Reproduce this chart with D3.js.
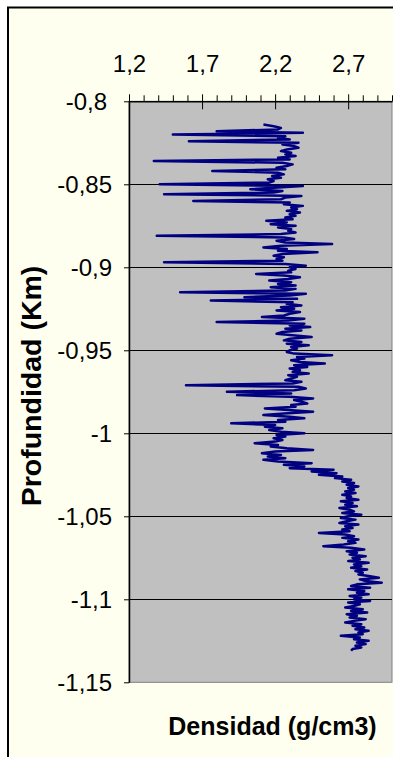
<!DOCTYPE html>
<html>
<head>
<meta charset="utf-8">
<script src="https://cdn.jsdelivr.net/npm/d3@7/dist/d3.min.js"></script>
<style>
  html, body { margin: 0; padding: 0; background: #ffffff; }
  svg { display: block; }
  text { font-family: "Liberation Sans", Arial, sans-serif; fill: #000; }
</style>
</head>
<body>
<svg id="chart" width="393" height="757"></svg>
<script>
// Registro de densidad vs. profundidad (km)
const profundidad = [
  -0.814,-0.815,-0.816,-0.817,-0.818,-0.819,-0.820,-0.821,-0.822,-0.823,
  -0.824,-0.825,-0.826,-0.827,-0.828,-0.829,-0.830,-0.831,-0.832,-0.833,
  -0.834,-0.835,-0.836,-0.837,-0.838,-0.839,-0.840,-0.841,-0.842,-0.843,
  -0.844,-0.845,-0.846,-0.847,-0.848,-0.849,-0.850,-0.851,-0.852,-0.853,
  -0.854,-0.855,-0.856,-0.857,-0.858,-0.859,-0.860,-0.861,-0.862,-0.863,
  -0.864,-0.865,-0.866,-0.867,-0.868,-0.869,-0.870,-0.871,-0.872,-0.873,
  -0.874,-0.875,-0.876,-0.877,-0.878,-0.879,-0.880,-0.881,-0.882,-0.883,
  -0.884,-0.885,-0.886,-0.887,-0.888,-0.889,-0.890,-0.891,-0.892,-0.893,
  -0.894,-0.895,-0.896,-0.897,-0.898,-0.899,-0.900,-0.901,-0.902,-0.903,
  -0.904,-0.905,-0.906,-0.907,-0.908,-0.909,-0.910,-0.911,-0.912,-0.913,
  -0.914,-0.915,-0.916,-0.917,-0.918,-0.919,-0.920,-0.921,-0.922,-0.923,
  -0.924,-0.925,-0.926,-0.927,-0.928,-0.929,-0.930,-0.931,-0.932,-0.933,
  -0.934,-0.935,-0.936,-0.937,-0.938,-0.939,-0.940,-0.941,-0.942,-0.943,
  -0.944,-0.945,-0.946,-0.947,-0.948,-0.949,-0.950,-0.951,-0.952,-0.953,
  -0.954,-0.955,-0.956,-0.957,-0.958,-0.959,-0.960,-0.961,-0.962,-0.963,
  -0.964,-0.965,-0.966,-0.967,-0.968,-0.969,-0.970,-0.971,-0.972,-0.973,
  -0.974,-0.975,-0.976,-0.977,-0.978,-0.979,-0.980,-0.981,-0.982,-0.983,
  -0.984,-0.985,-0.986,-0.987,-0.988,-0.989,-0.990,-0.991,-0.992,-0.993,
  -0.994,-0.995,-0.996,-0.997,-0.998,-0.999,-1.000,-1.001,-1.002,-1.003,
  -1.004,-1.005,-1.006,-1.007,-1.008,-1.009,-1.010,-1.011,-1.012,-1.013,
  -1.014,-1.015,-1.016,-1.017,-1.018,-1.019,-1.020,-1.021,-1.022,-1.023,
  -1.024,-1.025,-1.026,-1.027,-1.028,-1.029,-1.030,-1.031,-1.032,-1.033,
  -1.034,-1.035,-1.036,-1.037,-1.038,-1.039,-1.040,-1.041,-1.042,-1.043,
  -1.044,-1.045,-1.046,-1.047,-1.048,-1.049,-1.050,-1.051,-1.052,-1.053,
  -1.054,-1.055,-1.056,-1.057,-1.058,-1.059,-1.060,-1.061,-1.062,-1.063,
  -1.064,-1.065,-1.066,-1.067,-1.068,-1.069,-1.070,-1.071,-1.072,-1.073,
  -1.074,-1.075,-1.076,-1.077,-1.078,-1.079,-1.080,-1.081,-1.082,-1.083,
  -1.084,-1.085,-1.086,-1.087,-1.088,-1.089,-1.090,-1.091,-1.092,-1.093,
  -1.094,-1.095,-1.096,-1.097,-1.098,-1.099,-1.100,-1.101,-1.102,-1.103,
  -1.104,-1.105,-1.106,-1.107,-1.108,-1.109,-1.110,-1.111,-1.112,-1.113,
  -1.114,-1.115,-1.116,-1.117,-1.118,-1.119,-1.120,-1.121,-1.122,-1.123,
  -1.124,-1.125,-1.126,-1.127,-1.128,-1.129,-1.130,-1.131
];

const densidad = [
  2.12,2.19,2.24,2.22,1.80,2.39,1.50,2.27,2.22,2.30,
  1.61,2.36,2.25,2.33,2.36,2.28,2.24,2.31,2.27,2.34,
  2.22,2.30,1.37,2.25,2.32,2.28,2.21,2.27,1.77,2.22,
  2.26,2.18,2.24,2.15,2.19,2.16,1.41,2.39,2.22,2.03,
  2.25,2.19,1.44,2.38,2.27,2.24,1.64,2.30,2.26,2.39,
  2.31,2.35,2.28,2.37,2.30,2.34,2.27,2.32,2.14,2.28,
  2.17,2.34,2.22,2.31,2.29,2.34,2.24,1.39,2.26,2.33,
  2.21,2.27,2.59,2.24,2.12,2.28,2.22,2.49,2.25,2.19,
  2.26,2.21,2.25,1.44,2.27,2.41,2.30,2.34,2.29,2.31,
  2.07,2.26,2.37,2.29,2.16,2.31,2.22,2.34,2.17,2.34,
  2.27,1.55,2.41,2.30,1.99,2.35,1.76,2.32,2.28,2.38,
  2.24,2.33,2.21,2.37,2.30,2.26,2.11,2.40,2.29,1.80,
  2.40,2.30,2.44,2.27,2.38,2.25,2.21,2.32,2.45,2.30,
  2.26,2.38,2.28,2.43,2.31,2.35,2.30,2.28,2.33,2.59,
  2.35,2.40,2.31,2.37,2.54,2.33,2.42,2.30,2.37,2.32,
  2.43,2.29,2.35,2.31,2.27,2.38,2.32,1.59,2.36,2.41,
  2.33,1.87,2.31,1.94,2.30,2.46,2.33,2.38,2.42,2.31,
  2.34,2.13,2.29,2.46,2.26,2.12,2.30,2.40,2.22,2.27,
  1.90,2.20,2.13,2.25,2.16,2.24,2.40,2.21,2.27,2.19,
  2.25,2.20,2.06,2.22,2.17,2.28,2.46,2.20,2.11,2.24,
  2.15,2.27,2.12,2.22,2.45,2.26,2.40,2.30,2.60,2.45,
  2.62,2.50,2.66,2.61,2.72,2.66,2.74,2.69,2.77,2.70,
  2.74,2.68,2.75,2.66,2.72,2.69,2.77,2.65,2.73,2.68,
  2.76,2.64,2.71,2.74,2.66,2.79,2.70,2.65,2.75,2.69,
  2.64,2.77,2.68,2.73,2.66,2.71,2.50,2.68,2.74,2.66,
  2.77,2.70,2.75,2.67,2.53,2.72,2.81,2.69,2.76,2.71,
  2.82,2.73,2.78,2.70,2.84,2.74,2.79,2.72,2.83,2.75,
  2.80,2.77,2.84,2.91,2.78,2.82,2.93,2.76,2.72,2.85,
  2.70,2.81,2.76,2.84,2.71,2.79,2.74,2.85,2.70,2.78,
  2.74,2.68,2.80,2.72,2.83,2.69,2.76,2.71,2.82,2.74,
  2.68,2.79,2.73,2.81,2.75,2.84,2.77,2.80,2.65,2.78,
  2.74,2.84,2.76,2.82,2.75,2.79,2.73,2.72
];

const xTicks = [1.2, 1.7, 2.2, 2.7];
const xMinorTicks = [1.3, 1.4, 1.5, 1.6, 1.8, 1.9, 2.0, 2.1, 2.3, 2.4, 2.5, 2.6, 2.8, 2.9, 3.0];
const yTicks = [-0.8, -0.85, -0.9, -0.95, -1, -1.05, -1.1, -1.15];
const xDomain = [1.2, 3.0];
const yDomain = [-0.8, -1.15];
const xTitle = "Densidad (g/cm3)";
const yTitle = "Profundidad (Km)";

const svg = d3.select("#chart");
const plot = { left: 129, right: 392, top: 101.3, bottom: 682.3 };

const x = d3.scaleLinear().domain(xDomain).range([plot.left, plot.right]);
const y = d3.scaleLinear().domain(yDomain).range([plot.top, plot.bottom]);

const es = d3.formatLocale({ decimal: ",", thousands: ".", grouping: [3], currency: ["", " €"], minus: "-" });
const fmt = es.format("~g");

// Chart area (frame runs past the right and bottom edges)
svg.append("rect")
  .attr("x", 8).attr("y", 7.5)
  .attr("width", 500).attr("height", 800)
  .attr("fill", "#fffff0")
  .attr("stroke", "#000").attr("stroke-width", 2);

// Plot area
svg.append("rect")
  .attr("x", plot.left).attr("y", plot.top)
  .attr("width", plot.right - plot.left).attr("height", plot.bottom - plot.top)
  .attr("fill", "#c0c0c0")
  .attr("stroke", "#808080").attr("stroke-width", 1);

// Horizontal gridlines
svg.append("g").selectAll("line")
  .data(yTicks.slice(1, -1))
  .join("line")
  .attr("x1", plot.left).attr("x2", plot.right)
  .attr("y1", d => Math.round(y(d)) + 0.5).attr("y2", d => Math.round(y(d)) + 0.5)
  .attr("stroke", "#000").attr("stroke-width", 1);

// Density curve
const pts = profundidad.map((d, i) => [densidad[i], d]);
svg.append("path")
  .datum(pts)
  .attr("fill", "none")
  .attr("stroke", "#000080")
  .attr("stroke-width", 2.5)
  .attr("stroke-linejoin", "round")
  .attr("d", d3.line().x(p => x(p[0])).y(p => y(p[1])));

// Top axis: minor ticks
svg.append("g")
  .attr("transform", `translate(0,${plot.top})`)
  .call(d3.axisTop(x).tickValues(xMinorTicks).tickSize(6).tickSizeOuter(0).tickFormat(""))
  .call(g => g.select(".domain").remove())
  .call(g => g.selectAll("line").attr("stroke", "#000"));

// Top axis: major ticks crossing the axis, with labels
const xAxisG = svg.append("g")
  .attr("transform", `translate(0,${plot.top})`)
  .call(d3.axisTop(x).tickValues(xTicks).tickSize(7).tickSizeOuter(0).tickPadding(22).tickFormat(fmt));
xAxisG.select(".domain").attr("stroke", "#000").attr("stroke-width", 1.5);
xAxisG.selectAll(".tick line").attr("stroke", "#000").attr("y2", -7).attr("y1", 8);
xAxisG.selectAll(".tick text")
  .style("font-size", "24px")
  .style("font-family", "'Liberation Sans', Arial, sans-serif")
  .attr("fill", "#000");

// Left axis
const yAxisG = svg.append("g")
  .attr("transform", `translate(${plot.left},0)`)
  .call(d3.axisLeft(y).tickValues(yTicks).tickSize(5).tickSizeOuter(0).tickPadding(12).tickFormat(fmt));
yAxisG.select(".domain").attr("stroke", "#000").attr("stroke-width", 1.5);
yAxisG.selectAll(".tick line").attr("stroke", "#000");
yAxisG.selectAll(".tick text")
  .style("font-size", "24px")
  .style("font-family", "'Liberation Sans', Arial, sans-serif")
  .attr("fill", "#000")
  .attr("dy", "0.36em");
// the top label sits a little further out from the axis corner
yAxisG.selectAll(".tick text").filter(d => d === yDomain[0]).attr("dx", -5);

// Axis titles
svg.append("text")
  .attr("x", 272.5).attr("y", 735)
  .attr("text-anchor", "middle")
  .style("font-size", "25px").style("font-weight", "bold")
  .text(xTitle);

svg.append("text")
  .attr("transform", "translate(41,386) rotate(-90)")
  .attr("text-anchor", "middle")
  .style("font-size", "28.5px").style("font-weight", "bold")
  .text(yTitle);
</script>
</body>
</html>
